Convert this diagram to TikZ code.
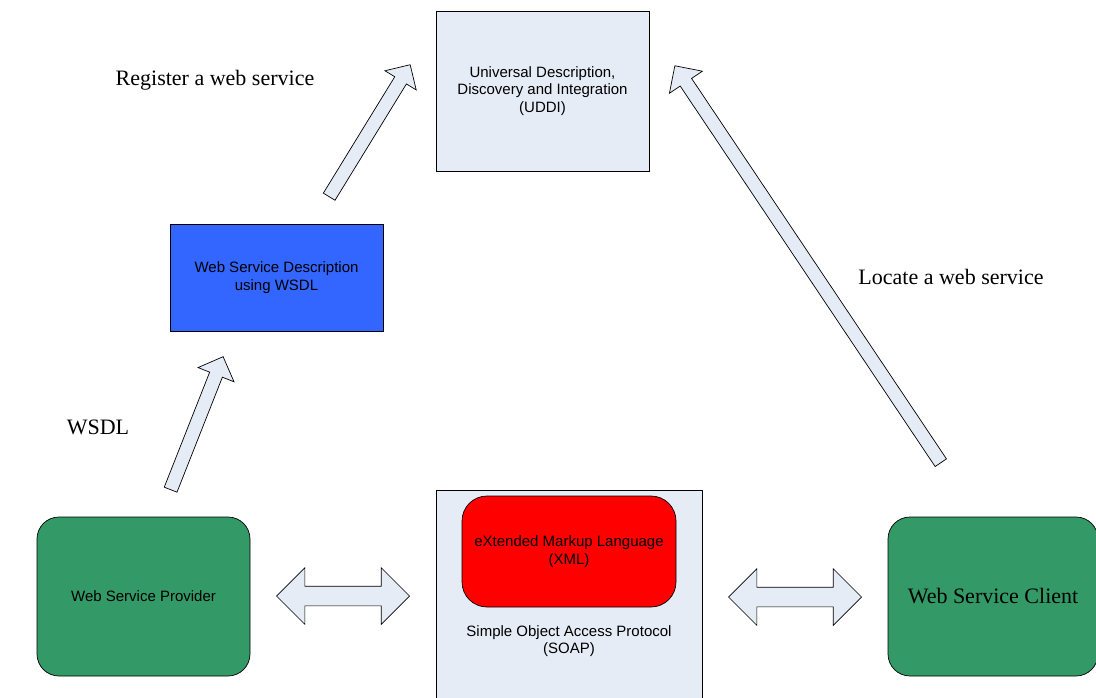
\documentclass[tikz,border=0pt]{standalone}
\usepackage{fontspec}
\setmainfont{Liberation Serif}
\setsansfont{Liberation Sans}
\usetikzlibrary{shapes.arrows,calc}
\definecolor{paleblue}{HTML}{E6ECF6}
\definecolor{wsdlblue}{HTML}{3366FF}
\definecolor{nodegreen}{HTML}{339966}
% block arrow from tail #2 to tip #3
\newcommand{\blockarrow}[3][]{%
  \path let \p1=($(#3)-(#2)$), \n1={atan2(\y1,\x1)}, \n2={veclen(\x1,\y1)} in
    (#2) node[arr, minimum height=\n2, rotate=\n1, anchor=tail, #1] {};}
\begin{document}
\begin{tikzpicture}
[x=1pt, y=-1pt, line width=0.7pt,
 box/.style ={draw, rectangle, align=center, font=\sffamily\fontsize{15}{17.5}\selectfont},
 rbox/.style ={box, rounded corners=22pt},
 lbl/.style ={font=\fontsize{22}{26}\selectfont},
 arr/.style ={single arrow, draw, fill=paleblue, inner sep=6.5pt, single arrow head extend=12.5pt},
 darr/.style ={double arrow, draw, fill=paleblue, inner sep=9.5pt, double arrow head extend=18.5pt, minimum height=133}]
\useasboundingbox (0,0) rectangle (1096,698);
\node[box, fill=paleblue, minimum width=213, minimum height=160] (uddi) at (542.5,91)
  {Universal Description,\\Discovery and Integration\\(UDDI)};
\node[box, fill=wsdlblue, minimum width=213, minimum height=107] (wsdl) at (276.5,277.5)
  {Web Service Description\\using WSDL};
\node[rbox, fill=nodegreen, minimum width=213, minimum height=159] (provider) at (143.5,596.5)
  {Web Service Provider};
\node[box, fill=paleblue, minimum width=266, minimum height=240] (soap) at (569,610) {};
\node[box, draw=none] (soaptext) at (569,641) {Simple Object Access Protocol\\(SOAP)};
\node[box, rounded corners=25pt, fill=red, minimum width=214, minimum height=111] (xml) at (569,551.5)
  {eXtended Markup Language\\(XML)};
\node[rbox, fill=nodegreen, minimum width=210, minimum height=159,
  font=\fontsize{22}{26}\selectfont] (client) at (993,596.5) {Web Service Client};
\node[lbl] (register) at (215,80) {Register a web service};
\node[lbl] (locate) at (951,277) {Locate a web service};
\node[lbl] (wsdllbl) at (98,427) {WSDL};
\coordinate (p1) at (170.5,490); \coordinate (p2) at (223,357);
\coordinate (w1) at (329,197); \coordinate (w2) at (410,65);
\coordinate (c1) at (941,463); \coordinate (c2) at (675,66);
\coordinate (l1) at (277,596); \coordinate (l2) at (409,596);
\coordinate (r1) at (728,597); \coordinate (r2) at (862,597);
\blockarrow{p1}{p2}
\blockarrow[single arrow head extend=11.5pt]{w1}{w2}
\blockarrow[single arrow head extend=13pt]{c1}{c2}
\path (l1) -- (l2) node[midway, darr] (leftarr) {};
\path (r1) -- (r2) node[midway, darr] (rightarr) {};
\end{tikzpicture}
\end{document}
